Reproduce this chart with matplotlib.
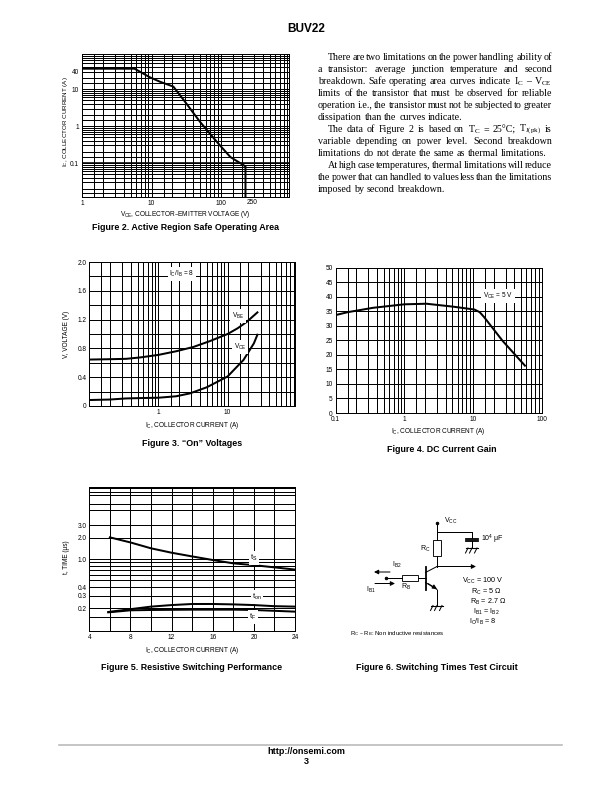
import matplotlib
matplotlib.use("Agg")
import matplotlib.pyplot as plt
from matplotlib.patches import Rectangle

plt.rcParams["font.family"] = ["Liberation Sans", "DejaVu Sans"]
plt.rcParams["mathtext.default"] = "regular"

W, H = 612, 792

# Figure 2
soa_vce = [1, 5.7, 9.5, 13.2, 20.6, 30.3, 50, 87.6, 136, 225, 225]
soa_ic = [36, 36, 21, 16, 11.8, 4.6, 1.3, 0.37, 0.146, 0.081, 0.012]

# Figure 3
on_ic = [0.1, 0.2, 0.34, 0.55, 1, 1.8, 3.2, 5.5, 10, 14, 19, 27]
on_vbe = [0.645, 0.65, 0.655, 0.675, 0.71, 0.76, 0.82, 0.9, 1.0, 1.08, 1.17, 1.3]
on_ic2 = [0.1, 0.2, 0.34, 0.55, 1, 1.8, 2.85, 5, 10, 17, 24, 27]
on_vce = [0.083, 0.09, 0.105, 0.11, 0.115, 0.135, 0.175, 0.26, 0.41, 0.64, 0.87, 0.99]

# Figure 4
gain_ic = [0.1, 0.15, 0.35, 1, 2.1, 5.1, 10.5, 12.5, 14.5, 27, 57]
gain_hfe = [33.7, 34.7, 36.2, 37.4, 37.6, 36.6, 35.6, 34.7, 33, 24.8, 16.3]

# Figure 5
sw_ic = [6, 8, 10, 12, 14, 16, 18, 20, 24]
sw_ts = [2.03, 1.72, 1.42, 1.23, 1.09, 0.97, 0.87, 0.82, 0.71]
ton_ic = [5.85, 8, 10, 12, 14, 16, 18, 20, 22, 24]
sw_ton = [0.178, 0.195, 0.212, 0.223, 0.231, 0.231, 0.228, 0.223, 0.215, 0.212]
tf_ic = [5.85, 8, 10, 14, 18, 20, 24]
sw_tf = [0.176, 0.188, 0.19, 0.192, 0.192, 0.19, 0.18]

log_grid = [1.5, 2, 3, 4, 5, 6, 7, 8, 9]
time_major = [0.2, 0.3, 0.4, 1.0, 2.0, 3.0]
time_minor = [0.15, 0.5, 0.6, 0.7, 0.8, 0.9, 5, 6, 8, 9, 10]

para_lines = [
    ("There are two limitations on the power handling ability of", True, True),
    ("a transistor: average junction temperature and second", False, True),
    ("breakdown. Safe operating area curves indicate I$_{C}$ – V$_{CE}$", False, True),
    ("limits of the transistor that must be observed for reliable", False, True),
    ("operation i.e., the transistor must not be subjected to greater", False, True),
    ("dissipation than the curves indicate.", False, False),
    ("The data of Figure 2 is based on T$_{C}$ = 25°C; T$_{J(pk)}$ is", True, True),
    ("variable depending on power level. Second breakdown", False, True),
    ("limitations do not derate the same as thermal limitations.", False, False),
    ("At high case temperatures, thermal limitations will reduce", True, True),
    ("the power that can handled to values less than the limitations", False, True),
    ("imposed by second breakdown.", False, False),
]
para_y = [57, 69, 81.5, 93.5, 105, 117.5, 129.5, 141.5, 153.5, 166, 178, 190]


def make_axes(fig, left, top, right, bottom):
    ax = fig.add_axes([left / W, 1 - bottom / H, (right - left) / W, (bottom - top) / H])
    ax.set_axisbelow(True)
    ax.tick_params(which="both", length=0, labelsize=6.5, pad=3)
    for spine in ax.spines.values():
        spine.set_linewidth(1.0)
    return ax


def log_minor(low, high):
    ticks = []
    decade = low
    while decade < high:
        ticks.extend(m * decade for m in log_grid)
        decade *= 10
    return ticks


def set_grid(ax):
    ax.grid(True, which="both", color="black", linewidth=1.0)
    ax.tick_params(which="minor", labelbottom=False, labelleft=False)


def ptext(page, x, y, s, size=6.5, ha="center", box=False, **kw):
    if box:
        kw["bbox"] = dict(facecolor="white", edgecolor="none", pad=1.5)
    page.text(x, y, s, fontsize=size, ha=ha, va="center", **kw)


def draw_paragraph(fig, page):
    renderer = fig.canvas.get_renderer()
    left, right, indent = 318, 552, 327.5
    for (line, indented, justify), y in zip(para_lines, para_y):
        x0 = indent if indented else left
        words = line.split(" ")
        items = [page.text(0, y, w, fontsize=10, family="Liberation Serif", va="center") for w in words]
        widths = [t.get_window_extent(renderer).width for t in items]
        gap = (right - x0 - sum(widths)) / (len(words) - 1) if justify else 2.5
        x = x0
        for item, width in zip(items, widths):
            item.set_x(x)
            x += width + gap


def ground(page, x, y, half=6):
    page.plot([x - half, x + half], [y, y], color="black", lw=1.1)
    for dx in (-half + 2, 0, half - 1):
        page.plot([x + dx, x + dx - 2.5], [y, y + 5], color="black", lw=1.0)


def arrow(page, x0, y0, x1, y1):
    page.annotate("", xy=(x1, y1), xytext=(x0, y0),
                  arrowprops=dict(arrowstyle="-|>", color="black", lw=1.0, mutation_scale=9,
                                  shrinkA=0, shrinkB=0))


def draw_circuit(page):
    # wires and parts, in page pixels
    wires = [
        ([437, 437], [522.5, 540]),
        ([437, 472], [532, 532]),
        ([472, 472], [532, 538]),
        ([472, 472], [541, 547]),
        ([437, 437], [556, 566.5]),
        ([437, 425.5], [566.5, 572.5]),
        ([425.5, 437], [582.5, 589.5]),
        ([437, 437], [589.5, 605]),
        ([385.5, 401.5], [578, 578]),
        ([418, 425.5], [578, 578]),
    ]
    for xs, ys in wires:
        page.plot(xs, ys, color="black", lw=1.0)
    page.plot([425.5, 425.5], [567, 590], color="black", lw=1.8)
    page.plot([466, 478], [538.5, 538.5], color="black", lw=1.8)
    page.plot([466, 478], [541, 541], color="black", lw=1.8)
    page.add_patch(Rectangle((433.3, 540), 7.4, 16, fc="white", ec="black", lw=0.9))
    page.add_patch(Rectangle((401.7, 575), 16.3, 6, fc="white", ec="black", lw=0.9))
    page.plot([437], [522.5], "o", color="black", ms=2.5)
    page.plot([385.5], [578], "o", color="black", ms=2.5)
    ground(page, 472, 548)
    ground(page, 437, 605.5)
    arrow(page, 437, 566.5, 476, 566.5)
    arrow(page, 428, 583.5, 437, 589)
    arrow(page, 390, 572, 374, 572)
    arrow(page, 375, 583.5, 395, 583.5)

    ptext(page, 451, 520.5, "V$_{CC}$", size=7)
    ptext(page, 492, 539, "10$^{4}$ μF", size=7)
    ptext(page, 425, 548.5, "R$_{C}$", size=7)
    ptext(page, 397, 565, "I$_{B2}$", size=7)
    ptext(page, 406, 587, "R$_{B}$", size=7)
    ptext(page, 371, 590, "I$_{B1}$", size=7)
    ptext(page, 482.5, 581, "V$_{CC}$ = 100 V", size=7.2)
    ptext(page, 486, 591.5, "R$_{C}$ = 5 Ω", size=7.2)
    ptext(page, 488, 601.5, "R$_{B}$ = 2.7 Ω", size=7.2)
    ptext(page, 486, 612, "I$_{B1}$ = I$_{B2}$", size=7.2)
    ptext(page, 483, 622, "I$_{C}$/I$_{B}$ = 8", size=7.2)
    ptext(page, 350, 634, "R$_{C}$ – R$_{B}$: Non inductive resistances", size=6, ha="left")


def main():
    fig = plt.figure(figsize=(W / 72, H / 72), dpi=72)

    # Figure 2
    ax2 = make_axes(fig, 82, 54, 288.7, 197)
    ax2.loglog(soa_vce, soa_ic, color="black", lw=2.0)
    ax2.set_xlim(1, 942)
    ax2.set_ylim(0.012, 83)
    ax2.set_xticks([1, 10, 100], ["1", "10", "100"])
    ax2.set_xticks(log_minor(1, 1000), minor=True)
    ax2.set_yticks([0.1, 1, 10], ["0.1", "1", "10"])
    ax2.set_yticks(log_minor(0.01, 100), minor=True)
    set_grid(ax2)
    ax2.axhline(0.1, color="black", lw=1.6)

    # Figure 3
    ax3 = make_axes(fig, 89.3, 262, 295, 406)
    ax3.semilogx(on_ic, on_vbe, color="black", lw=2.0)
    ax3.semilogx(on_ic2, on_vce, color="black", lw=2.0)
    ax3.set_xlim(0.1, 94.4)
    ax3.set_ylim(0, 2.0)
    ax3.set_xticks([1, 10], ["1", "10"])
    ax3.set_xticks(log_minor(0.1, 100), minor=True)
    ax3.set_yticks([0, 0.4, 0.8, 1.2, 1.6, 2.0], ["0", "0.4", "0.8", "1.2", "1.6", "2.0"])
    ax3.set_yticks([0.2, 0.6, 1.0, 1.4, 1.8], minor=True)
    set_grid(ax3)

    # Figure 4
    ax4 = make_axes(fig, 335.7, 267.7, 541.7, 413)
    ax4.semilogx(gain_ic, gain_hfe, color="black", lw=2.0)
    ax4.set_xlim(0.1, 100)
    ax4.set_ylim(0, 50)
    ax4.set_xticks([0.1, 1, 10, 100], ["0.1", "1", "10", "100"])
    ax4.set_xticks(log_minor(0.1, 100), minor=True)
    ax4.set_yticks(range(0, 55, 5), [str(v) for v in range(0, 55, 5)])
    set_grid(ax4)

    # Figure 5
    ax5 = make_axes(fig, 89.3, 486.7, 295, 631)
    ax5.semilogy(sw_ic, sw_ts, color="black", lw=2.0)
    ax5.semilogy(ton_ic, sw_ton, color="black", lw=2.0)
    ax5.semilogy(tf_ic, sw_tf, color="black", lw=2.0)
    ax5.set_xlim(4, 24)
    ax5.set_ylim(0.0957, 10.6)
    ax5.set_xticks([4, 8, 12, 16, 20, 24], ["4", "8", "12", "16", "20", "24"])
    ax5.set_xticks([6, 10, 14, 18, 22], minor=True)
    ax5.set_yticks(time_major, ["0.2", "0.3", "0.4", "1.0", "2.0", "3.0"])
    ax5.set_yticks(time_minor, minor=True)
    set_grid(ax5)

    # page overlay in pixels, for everything that is not a chart
    page = fig.add_axes([0, 0, 1, 1], zorder=5)
    page.set_xlim(0, W)
    page.set_ylim(H, 0)
    page.axis("off")

    ptext(page, 306, 29, "BUV22", size=11.8, fontweight="bold")
    page.plot([59, 562], [744.5, 744.5], color="#b8b8b8", lw=1.6)
    ptext(page, 306, 752, "http://onsemi.com", size=9, fontweight="bold")
    ptext(page, 306, 761.5, "3", size=9, fontweight="bold")

    ptext(page, 76, 72, "40")
    ptext(page, 251.7, 203, "250")
    ptext(page, 185, 215, "V$_{CE}$, COLLECTOR–EMITTER VOLTAGE (V)")
    ptext(page, 66, 121.7, "I$_{C}$, COLLECTOR CURRENT (A)", size=6.3, rotation=90)
    ptext(page, 185, 227, "Figure 2. Active Region Safe Operating Area", size=8.9, fontweight="bold")

    ptext(page, 182, 274, "I$_{C}$/I$_{B}$ = 8", box=True)
    ptext(page, 238, 316, "V$_{BE}$", box=True)
    ptext(page, 240, 347, "V$_{CE}$", box=True)
    ptext(page, 191.7, 425.7, "I$_{C}$, COLLECTOR CURRENT (A)")
    ptext(page, 66.7, 334, "V, VOLTAGE (V)", rotation=90)
    ptext(page, 192, 444, "Figure 3. “On” Voltages", size=8.9, fontweight="bold")

    ptext(page, 498, 296, "V$_{CE}$ = 5 V", box=True)
    ptext(page, 438, 431.7, "I$_{C}$, COLLECTOR CURRENT (A)")
    ptext(page, 441.7, 450, "Figure 4. DC Current Gain", size=8.9, fontweight="bold")

    ptext(page, 254, 558, "t$_{S}$", size=7.5, box=True)
    ptext(page, 257, 597, "t$_{on}$", size=7.5, box=True)
    ptext(page, 253, 617, "t$_{F}$", size=7.5, box=True)
    ptext(page, 191.7, 650, "I$_{C}$, COLLECTOR CURRENT (A)")
    ptext(page, 66.7, 556.7, "t, TIME (μs)", rotation=90)
    ptext(page, 191.7, 668, "Figure 5. Resistive Switching Performance", size=8.9, fontweight="bold")

    ptext(page, 436.7, 667, "Figure 6. Switching Times Test Circuit", size=8.9, fontweight="bold")

    draw_circuit(page)
    draw_paragraph(fig, page)

    fig.savefig("out.png", dpi=72)
    plt.close(fig)


if __name__ == "__main__":
    main()
